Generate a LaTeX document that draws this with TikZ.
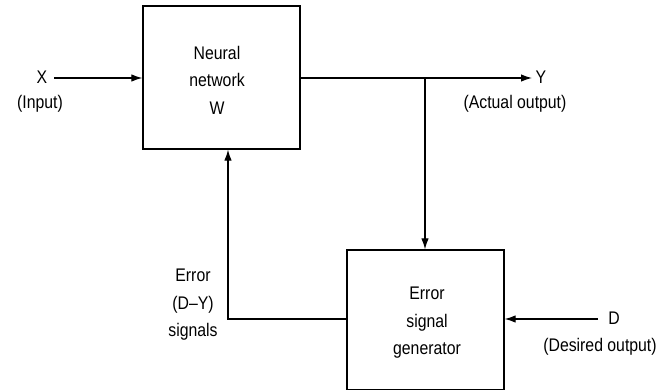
\documentclass[tikz,border=0pt]{standalone}
\usepackage{fontspec}
\usepackage{graphicx}
\setmainfont{Liberation Sans}
\usetikzlibrary{arrows.meta}
% slightly taller lettering
\newcommand\tl[1]{\scalebox{0.97}[1.12]{#1}}
\begin{document}
\begin{tikzpicture}[x=1pt,y=-1pt,
  blk/.style={draw,line width=1.3pt,inner sep=0pt},
  lbl/.style={font=\fontsize{16.3}{27.5}\selectfont,align=center,inner sep=0pt},
  wire/.style={line width=1.2pt},
  arr/.style={wire,-{Latex[length=11pt,width=7.5pt]}}]
\useasboundingbox (0,0) rectangle (670,390);
% blocks
\node[blk,minimum width=157pt,minimum height=143pt] (nn) at (221.5,77.5) {};
\node[lbl] (nnt) at (217,80) {\tl{Neural}\\\tl{network}\\\tl{W}};
\node[blk,minimum width=157pt,minimum height=140pt] (esg) at (425.5,320) {};
\node[lbl] (esgt) at (427,323) {\tl{Error}\\\tl{signal}\\\tl{generator}};
% terminals and labels
\node[lbl] (x) at (42,77) {\tl{X}};
\node[lbl] (xin) at (40,104) {\tl{(Input)}};
\node[lbl] (y) at (541,77) {\tl{Y}};
\node[lbl] (yout) at (515,104) {\tl{(Actual output)}};
\node[lbl] (d) at (614,318) {\tl{D}};
\node[lbl] (dout) at (600,347) {\tl{(Desired output)}};
\node[lbl] (err) at (193,305) {\tl{Error}\\\tl{(D–Y)}\\\tl{signals}};
% junction points
\coordinate (xs) at (54,78);
\coordinate (ye) at (532,78);
\coordinate (br) at (425,78);
\coordinate (ds) at (598,319);
\coordinate (fb) at (228,319);
% connectors
\draw[arr] (xs) -- (xs -| nn.west);
\draw[arr] (ye -| nn.east) -- (ye);
\draw[arr] (br) -- (br |- esg.north);
\draw[arr] (ds) -- (ds -| esg.east);
\draw[arr] (fb -| esg.west) -- (fb) -- (fb |- nn.south);
\end{tikzpicture}
\end{document}
